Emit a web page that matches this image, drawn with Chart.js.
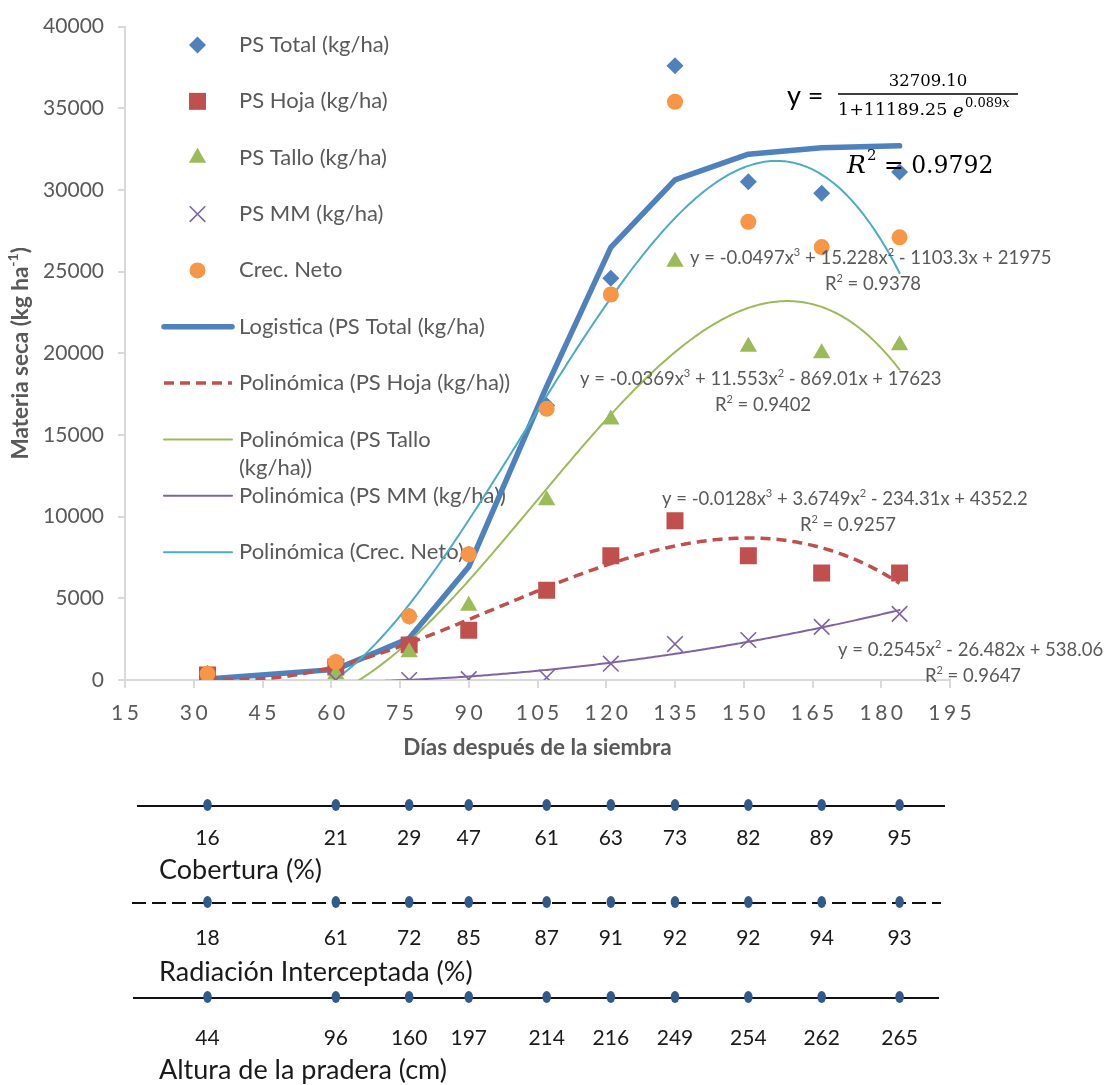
<!DOCTYPE html>
<html>
<head>
<meta charset="utf-8">
<script src="https://cdn.jsdelivr.net/npm/chart.js@4.4.1/dist/chart.umd.min.js"></script>
<style>
  html, body { margin: 0; padding: 0; background: #ffffff; }
  #wrap { width: 1110px; height: 1085px; }
</style>
</head>
<body>
<div id="wrap"><canvas id="c" width="1110" height="1085"></canvas></div>
<script>
// Sampling days (días después de la siembra)
const days = [33, 61, 77, 90, 107, 121, 135, 151, 167, 184];

// Dry matter, kg/ha
const psTotal = [400, 1100, 3900, 7700, 16800, 24600, 37600, 30500, 29800, 31100];
const psHoja  = [300, 800, 2150, 3050, 5500, 7600, 9750, 7600, 6550, 6550];
const psTallo = [50, 350, 1700, 4550, 11000, 15950, 25600, 20400, 20000, 20500];
const psMM    = [0, 0, 0, 50, 150, 1000, 2200, 2450, 3250, 4050];
const crecNeto = [380, 1100, 3900, 7700, 16600, 23600, 35400, 28050, 26500, 27100];

// Logistic fit of PS Total at each sampling day
const logistica = [60, 650, 2550, 6930, 17970, 26490, 30620, 32190, 32580, 32700];

// Trendline coefficients, highest power first
const polyHoja  = [-0.0128, 3.6749, -234.31, 4352.2];
const polyTallo = [-0.0369, 11.553, -869.01, 17623];
const polyMM    = [0.2545, -26.482, 538.06];
const polyNeto  = [-0.0497, 15.228, -1103.3, 21975];

// Axis ticks
const xTicks = [15, 30, 45, 60, 75, 90, 105, 120, 135, 150, 165, 180, 195];
const yTicks = [0, 5000, 10000, 15000, 20000, 25000, 30000, 35000, 40000];

// Canopy indicators at each sampling day
const cobertura = [16, 21, 29, 47, 61, 63, 73, 82, 89, 95];
const radiacion = [18, 61, 72, 85, 87, 91, 92, 92, 94, 93];
const altura    = [44, 96, 160, 197, 214, 216, 249, 254, 262, 265];

const FONT = 'Lato, "Open Sans", "DejaVu Sans", sans-serif';
const SERIF = '"DejaVu Serif", "Liberation Serif", serif';
const GREY = '#595959';
const C_BLUE = '#4F81BD', C_RED = '#C0504D', C_GREEN = '#9BBB59',
      C_PURPLE = '#8064A2', C_ORANGE = '#F79646', C_CYAN = '#4BACC6';

function polyAt(coefs, x) { return coefs.reduce((acc, c) => acc * x + c, 0); }
function trend(coefs) {
  const pts = [];
  const x0 = days[0], x1 = days[days.length - 1];
  for (let x = x0; x <= x1 + 1e-9; x += 0.5) pts.push({ x: x, y: polyAt(coefs, x) });
  return pts;
}
function pairs(ys) { return days.map((d, i) => ({ x: d, y: ys[i] })); }

function lineSet(label, data, color, width, order, dash) {
  return {
    type: 'line', label, data, order,
    borderColor: color, borderWidth: width, borderDash: dash || [],
    borderCapStyle: dash ? 'butt' : 'round', borderJoinStyle: 'round',
    pointRadius: 0, pointHoverRadius: 0, tension: 0, fill: false
  };
}
function markerSet(label, data, style, radius, color, order) {
  const cross = style === 'crossRot';
  return {
    type: 'scatter', label, data, order,
    pointStyle: style, pointRadius: radius, pointHoverRadius: radius,
    backgroundColor: color, borderColor: color,
    borderWidth: cross ? 1.6 : 0, pointBorderWidth: cross ? 1.6 : 0
  };
}

// Marker painter for the in-plot legend
function drawMarker(ctx, style, x, y, r, color) {
  ctx.save();
  ctx.fillStyle = color; ctx.strokeStyle = color; ctx.lineWidth = 1.6;
  ctx.beginPath();
  if (style === 'rectRot') {
    ctx.moveTo(x - r, y); ctx.lineTo(x, y - r); ctx.lineTo(x + r, y); ctx.lineTo(x, y + r); ctx.closePath(); ctx.fill();
  } else if (style === 'rect') {
    const h = r * Math.SQRT1_2; ctx.rect(x - h, y - h, 2 * h, 2 * h); ctx.fill();
  } else if (style === 'triangle') {
    ctx.moveTo(x, y - r); ctx.lineTo(x + r * 0.866, y + r / 2); ctx.lineTo(x - r * 0.866, y + r / 2); ctx.closePath(); ctx.fill();
  } else if (style === 'crossRot') {
    const h = r * Math.SQRT1_2;
    ctx.moveTo(x - h, y - h); ctx.lineTo(x + h, y + h); ctx.moveTo(x + h, y - h); ctx.lineTo(x - h, y + h); ctx.stroke();
  } else {
    ctx.arc(x, y, r, 0, Math.PI * 2); ctx.fill();
  }
  ctx.restore();
}

const legendItems = [
  { text: ['PS Total (kg/ha)'], marker: 'rectRot', r: 8.5, color: C_BLUE },
  { text: ['PS Hoja (kg/ha)'], marker: 'rect', r: 12, color: C_RED },
  { text: ['PS Tallo (kg/ha)'], marker: 'triangle', r: 10, color: C_GREEN },
  { text: ['PS MM (kg/ha)'], marker: 'crossRot', r: 11, color: C_PURPLE },
  { text: ['Crec. Neto'], marker: 'circle', r: 8, color: C_ORANGE },
  { text: ['Logistica (PS Total (kg/ha)'], line: { color: C_BLUE, width: 5.5 } },
  { text: ['Polinómica (PS Hoja (kg/ha))'], line: { color: C_RED, width: 3.5, dash: [10, 6] } },
  { text: ['Polinómica (PS Tallo', '(kg/ha))'], line: { color: C_GREEN, width: 2 } },
  { text: ['Polinómica (PS MM (kg/ha))'], line: { color: C_PURPLE, width: 2 } },
  { text: ['Polinómica (Crec. Neto)'], line: { color: C_CYAN, width: 2 } }
];

// Trendline equations; "^" marks a superscript digit
const trendLabels = [
  { eq: 'y = -0.0497x^3 + 15.228x^2 - 1103.3x + 21975', r2: 'R^2 = 0.9378', x: 690, y: 258, rx: 873, ry: 284 },
  { eq: 'y = -0.0369x^3 + 11.553x^2 - 869.01x + 17623', r2: 'R^2 = 0.9402', x: 580, y: 379, rx: 763, ry: 405 },
  { eq: 'y = -0.0128x^3 + 3.6749x^2 - 234.31x + 4352.2', r2: 'R^2 = 0.9257', x: 662, y: 499, rx: 848, ry: 525 },
  { eq: 'y = 0.2545x^2 - 26.482x + 538.06', r2: 'R^2 = 0.9647', x: 838, y: 650, rx: 973, ry: 676 }
];

const strips = [
  { title: 'Cobertura (%)', values: cobertura, lineY: 806, labelY: 838, titleY: 870, x0: 137, x1: 945, dash: [] },
  { title: 'Radiación Interceptada (%)', values: radiacion, lineY: 903, labelY: 938, titleY: 972, x0: 132, x1: 941, dash: [14, 6] },
  { title: 'Altura de la pradera (cm)', values: altura, lineY: 998, labelY: 1038, titleY: 1070, x0: 133, x1: 939, dash: [] }
];

function spacedText(ctx, str, cx, cy, spacing) {
  const widths = [...str].map(ch => ctx.measureText(ch).width);
  const total = widths.reduce((a, b) => a + b, 0) + spacing * (widths.length - 1);
  let x = cx - total / 2;
  ctx.textAlign = 'left';
  [...str].forEach((ch, i) => { ctx.fillText(ch, x, cy); x += widths[i] + spacing; });
}

// Text with superscript digits written as ^d
function supText(ctx, str, x, y, size, align) {
  const parts = [];
  const re = /\^(\d)/g;
  let last = 0, m;
  while ((m = re.exec(str))) {
    if (m.index > last) parts.push({ t: str.slice(last, m.index), sup: false });
    parts.push({ t: m[1], sup: true });
    last = m.index + m[0].length;
  }
  if (last < str.length) parts.push({ t: str.slice(last), sup: false });
  const big = size + 'px ' + FONT, small = Math.round(size * 0.62) + 'px ' + FONT;
  const widths = parts.map(p => { ctx.font = p.sup ? small : big; return ctx.measureText(p.t).width; });
  const total = widths.reduce((a, b) => a + b, 0);
  let px = align === 'center' ? x - total / 2 : x;
  ctx.textAlign = 'left';
  parts.forEach((p, i) => {
    ctx.font = p.sup ? small : big;
    ctx.fillText(p.t, px, p.sup ? y - size * 0.3 : y);
    px += widths[i];
  });
}

const decor = {
  id: 'decor',
  beforeDatasetsDraw(chart) {
    const ctx = chart.ctx;
    ctx.save();
    ctx.font = '22px ' + FONT;
    ctx.fillStyle = GREY;
    ctx.textBaseline = 'middle';
    ctx.textAlign = 'left';
    const y0 = 45, step = 56.35, mx = 197.5, tx = 239;
    legendItems.forEach((it, i) => {
      const y = y0 + step * i;
      if (it.marker) {
        drawMarker(ctx, it.marker, mx, y, it.r, it.color);
      } else {
        ctx.save();
        ctx.strokeStyle = it.line.color; ctx.lineWidth = it.line.width;
        ctx.lineCap = it.line.dash ? 'butt' : 'round';
        ctx.setLineDash(it.line.dash || []);
        ctx.beginPath(); ctx.moveTo(164, y); ctx.lineTo(232, y); ctx.stroke();
        ctx.restore();
      }
      it.text.forEach((t, k) => ctx.fillText(t, tx, y + k * 28));
    });
    ctx.restore();
  },
  afterDatasetsDraw(chart) {
    const ctx = chart.ctx;
    ctx.save();
    ctx.textBaseline = 'middle';
    ctx.fillStyle = GREY;
    trendLabels.forEach(l => {
      supText(ctx, l.eq, l.x, l.y, 18.5, 'left');
      supText(ctx, l.r2, l.rx, l.ry, 18.5, 'center');
    });

    // Logistic equation
    ctx.fillStyle = '#000000';
    ctx.textAlign = 'left';
    ctx.font = '27px ' + FONT;
    ctx.fillText('y =', 787, 96);
    ctx.font = '16.5px ' + SERIF;
    ctx.textAlign = 'center';
    ctx.fillText('32709.10', 928, 82);
    ctx.strokeStyle = '#000000'; ctx.lineWidth = 1.3;
    ctx.beginPath(); ctx.moveTo(838, 94); ctx.lineTo(1018, 94); ctx.stroke();
    ctx.textAlign = 'left';
    ctx.font = '17.5px ' + SERIF;
    ctx.fillText('1+11189.25', 838, 110);
    ctx.font = 'italic 18px ' + SERIF;
    ctx.fillText('e', 953, 112);
    ctx.font = '13px ' + SERIF;
    const w0 = ctx.measureText('0.089').width;
    ctx.fillText('0.089', 965, 104);
    ctx.font = 'italic 13px ' + SERIF;
    ctx.fillText('x', 965 + w0, 104);

    // Coefficient of determination of the logistic fit
    ctx.font = 'italic 25px ' + SERIF;
    ctx.fillText('R', 847, 166);
    ctx.font = '15px ' + SERIF;
    ctx.fillText('2', 867, 156);
    ctx.font = '23.5px ' + SERIF;
    ctx.fillText('= 0.9792', 884, 167);
    ctx.restore();
  },
  afterDraw(chart) {
    const ctx = chart.ctx;
    const xs = chart.scales.x;
    const area = chart.chartArea;
    ctx.save();
    ctx.textBaseline = 'middle';

    // X tick labels, letter-spaced
    ctx.fillStyle = GREY;
    ctx.font = '21px ' + FONT;
    xTicks.forEach(v => spacedText(ctx, String(v), xs.getPixelForValue(v), 713, 3.5));

    // Axis titles
    ctx.font = 'bold 22.5px ' + FONT;
    ctx.textAlign = 'center';
    ctx.fillText('Días después de la siembra', (area.left + area.right) / 2, 748);

    ctx.save();
    ctx.translate(21, (area.top + area.bottom) / 2);
    ctx.rotate(-Math.PI / 2);
    const main = 'Materia seca (kg ha', sup = '-1', tail = ')';
    ctx.font = 'bold 22.5px ' + FONT;
    const wMain = ctx.measureText(main).width, wTail = ctx.measureText(tail).width;
    ctx.font = 'bold 14px ' + FONT;
    const wSup = ctx.measureText(sup).width;
    let px = -(wMain + wSup + wTail) / 2;
    ctx.textAlign = 'left';
    ctx.font = 'bold 22.5px ' + FONT;
    ctx.fillText(main, px, 0); px += wMain;
    ctx.font = 'bold 14px ' + FONT;
    ctx.fillText(sup, px, -8); px += wSup;
    ctx.font = 'bold 22.5px ' + FONT;
    ctx.fillText(tail, px, 0);
    ctx.restore();

    // Indicator strips below the plot
    strips.forEach(s => {
      ctx.save();
      ctx.strokeStyle = '#111111'; ctx.lineWidth = 2;
      ctx.setLineDash(s.dash);
      ctx.beginPath(); ctx.moveTo(s.x0, s.lineY); ctx.lineTo(s.x1, s.lineY); ctx.stroke();
      ctx.restore();
      ctx.fillStyle = '#30598C';
      days.forEach(d => {
        const x = xs.getPixelForValue(d);
        ctx.beginPath(); ctx.ellipse(x, s.lineY - 1, 4.3, 6, 0, 0, Math.PI * 2); ctx.fill();
      });
      ctx.fillStyle = '#1a1a1a';
      ctx.font = '21px ' + FONT;
      ctx.textAlign = 'center';
      s.values.forEach((v, i) => ctx.fillText(String(v), xs.getPixelForValue(days[i]), s.labelY));
      ctx.font = '27px ' + FONT;
      ctx.textAlign = 'left';
      ctx.fillText(s.title, 159, s.titleY);
    });
    ctx.restore();
  }
};

new Chart(document.getElementById('c'), {
  data: {
    datasets: [
      lineSet('Logistica (PS Total (kg/ha)', pairs(logistica), C_BLUE, 5.5, 20),
      lineSet('Polinómica (PS Hoja (kg/ha))', trend(polyHoja), C_RED, 3.5, 15, [10, 6]),
      lineSet('Polinómica (PS Tallo (kg/ha))', trend(polyTallo), C_GREEN, 2, 14),
      lineSet('Polinómica (PS MM (kg/ha))', trend(polyMM), C_PURPLE, 2, 13),
      lineSet('Polinómica (Crec. Neto)', trend(polyNeto), C_CYAN, 2, 12),
      markerSet('PS Total (kg/ha)', pairs(psTotal), 'rectRot', 8.5, C_BLUE, 5),
      markerSet('PS Hoja (kg/ha)', pairs(psHoja), 'rect', 12, C_RED, 4),
      markerSet('PS Tallo (kg/ha)', pairs(psTallo), 'triangle', 10, C_GREEN, 3),
      markerSet('PS MM (kg/ha)', pairs(psMM), 'crossRot', 11, C_PURPLE, 2),
      markerSet('Crec. Neto', pairs(crecNeto), 'circle', 8, C_ORANGE, 1)
    ]
  },
  options: {
    responsive: false,
    animation: false,
    events: [],
    layout: { padding: { left: 0, top: 24, right: 160, bottom: 375 } },
    plugins: { legend: { display: false }, tooltip: { enabled: false } },
    scales: {
      x: {
        type: 'linear', min: 15, max: 195,
        afterBuildTicks: s => { s.ticks = xTicks.map(v => ({ value: v })); },
        afterFit: s => { s.height = 30; },
        ticks: { display: false },
        grid: { drawOnChartArea: false, drawTicks: true, tickLength: 8, color: '#d9d9d9', lineWidth: 2 },
        border: { color: '#d9d9d9', width: 2 }
      },
      y: {
        type: 'linear', min: 0, max: 40000,
        afterBuildTicks: s => { s.ticks = yTicks.map(v => ({ value: v })); },
        afterFit: s => { s.width = 125; },
        ticks: { font: { family: FONT, size: 21 }, color: GREY, padding: 14, callback: v => String(v) },
        grid: { drawOnChartArea: false, drawTicks: true, tickLength: 7, color: '#d9d9d9', lineWidth: 2 },
        border: { color: '#d9d9d9', width: 2 }
      }
    }
  },
  plugins: [decor]
});
</script>
</body>
</html>
